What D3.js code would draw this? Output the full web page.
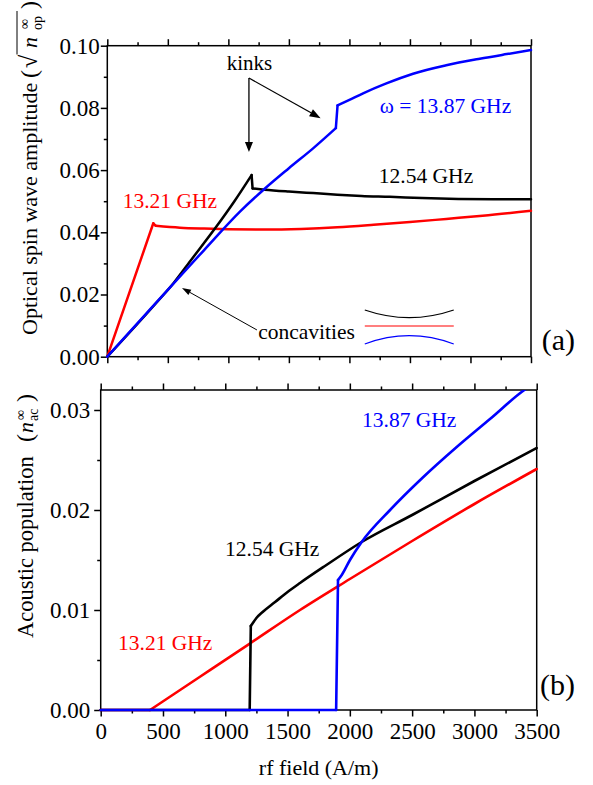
<!DOCTYPE html>
<html lang="en">
<head>
<meta charset="UTF-8">
<title>Optical amplitude and acoustic population vs rf field</title>
<style>
  body { margin: 0; background: #fff; }
  svg { display: block; font-family: "Liberation Serif", "Times New Roman", serif; }
</style>
</head>
<body>
<svg width="593" height="785"></svg>
<script src="https://d3js.org/d3.v7.min.js"></script>
<script>
// ---- panel (a): optical spin wave amplitude
const redA_x   = [0, 380, 400, 600, 800, 1000, 1300, 1600, 1900, 2200, 2500, 2800, 3100, 3500];
const redA_y   = [0, 0.0429, 0.0421, 0.0415, 0.0412, 0.0410, 0.0409, 0.0411, 0.0416, 0.0424, 0.0433, 0.0443, 0.0453, 0.0469];
const blackA_x = [0, 400, 550, 700, 889, 1050, 1192, 1200, 1300, 1500, 1700, 1900, 2100, 2333, 2600, 2900, 3200, 3500];
const blackA_y = [0, 0.0171, 0.0238, 0.0315, 0.0412, 0.0500, 0.0584, 0.0541, 0.0537, 0.0531, 0.0526, 0.0521, 0.0517, 0.0514, 0.0510, 0.0507, 0.0506, 0.0506];
const blueA_x  = [0, 400, 800, 1100, 1300, 1500, 1700, 1888, 1902, 2000, 2113, 2300, 2526, 2800, 3077, 3300, 3500];
const blueA_y  = [0, 0.0172, 0.0343, 0.0468, 0.0540, 0.0606, 0.0670, 0.0735, 0.0808, 0.0826, 0.0847, 0.0878, 0.0910, 0.0937, 0.0958, 0.0973, 0.0986];

// ---- panel (b): acoustic population
const redB_x   = [0, 396, 800, 1200, 1600, 2000, 2500, 3000, 3500];
const redB_y   = [0, 0, 0.00335, 0.00667, 0.0100, 0.0131, 0.0169, 0.0206, 0.0241];
const blackB_x = [0, 1196, 1205, 1250, 1300, 1400, 1500, 1600, 1800, 2095, 2500, 3000, 3500];
const blackB_y = [0, 0, 0.0084, 0.0092, 0.0098, 0.0108, 0.0118, 0.0127, 0.0144, 0.0168, 0.0195, 0.0229, 0.0262];
const blueB_x  = [0, 1890, 1905, 1935, 2001, 2095, 2323, 2590, 2858, 3125, 3401, 3500];
const blueB_y  = [0, 0, 0.0130, 0.0135, 0.0150, 0.0168, 0.0200, 0.0233, 0.0263, 0.0291, 0.0320, 0.0328];

const xTicks = [0, 500, 1000, 1500, 2000, 2500, 3000, 3500];
const xMinor = [250, 750, 1250, 1750, 2250, 2750, 3250];
const yTicksA = [0, 0.02, 0.04, 0.06, 0.08, 0.10];
const yMinorA = [0.01, 0.03, 0.05, 0.07, 0.09];
const yTicksB = [0, 0.01, 0.02, 0.03];
const yMinorB = [0.005, 0.015, 0.025];

const RED = "#ff0000", BLUE = "#0000ff", BLACK = "#000000";

const svg = d3.select("svg");

const A = { left: 107.3, right: 531, top: 45.7, bottom: 356.7 };
const B = { left: 100.7, right: 536.7, top: 390, bottom: 710 };

const xA = d3.scaleLinear().domain([0, 3500]).range([A.left, A.right]);
const yA = d3.scaleLinear().domain([0, 0.10]).range([A.bottom, A.top]);
const xB = d3.scaleLinear().domain([0, 3500]).range([B.left, B.right]);
const yB = d3.scaleLinear().domain([0, 0.032]).range([B.bottom, B.top]);

function frame(x, y, box, yMajor, yMin, yPad, xLabels) {
  const put = (axis, tx, ty) => svg.append("g")
    .attr("transform", `translate(${tx},${ty})`)
    .call(axis)
    .call(g => {
      g.attr("font-family", null).attr("font-size", 23);
      g.select(".domain").remove();
      g.selectAll(".tick line").attr("stroke-width", 1.5);
      g.selectAll(".tick text").attr("fill", "#000");
    });
  const none = () => "";
  put(d3.axisBottom(x).tickValues(xTicks).tickSize(6.5).tickPadding(6).tickFormat(xLabels ? d3.format("d") : none), 0, box.bottom);
  put(d3.axisBottom(x).tickValues(xMinor).tickSize(3.5).tickFormat(none), 0, box.bottom);
  put(d3.axisTop(x).tickValues(xTicks).tickSize(6.5).tickFormat(none), 0, box.top);
  put(d3.axisTop(x).tickValues(xMinor).tickSize(3.5).tickFormat(none), 0, box.top);
  put(d3.axisLeft(y).tickValues(yMajor).tickSize(6.5).tickPadding(yPad).tickFormat(d3.format(".2f")), box.left, 0);
  put(d3.axisLeft(y).tickValues(yMin).tickSize(3.5).tickFormat(none), box.left, 0);
  svg.append("rect")
    .attr("x", box.left).attr("y", box.top)
    .attr("width", box.right - box.left).attr("height", box.bottom - box.top)
    .attr("fill", "none").attr("stroke", "#000").attr("stroke-width", 1.5);
}

frame(xA, yA, A, yTicksA, yMinorA, 1, false);
frame(xB, yB, B, yTicksB, yMinorB, 4, true);

// clip for panel (b) so the blue curve stops at the top frame
svg.append("clipPath").attr("id", "clipB").append("rect")
  .attr("x", B.left - 3).attr("y", B.top)
  .attr("width", B.right - B.left + 6).attr("height", B.bottom - B.top + 4);

// smooth runs between the sharp corners (kinks / jumps)
function curve(xs, ys, x, y, color, width, corners, clip) {
  const line = d3.line().x(i => x(xs[i])).y(i => y(ys[i])).curve(d3.curveMonotoneX);
  const cuts = [0, ...corners, xs.length - 1];
  const g = svg.append("g");
  if (clip) g.attr("clip-path", `url(#${clip})`);
  for (let k = 0; k < cuts.length - 1; k++) {
    g.append("path")
      .attr("d", line(d3.range(cuts[k], cuts[k + 1] + 1)))
      .attr("fill", "none").attr("stroke", color)
      .attr("stroke-width", width)
      .attr("stroke-linejoin", "round").attr("stroke-linecap", "round");
  }
}

curve(redA_x, redA_y, xA, yA, RED, 2.5, [1, 2]);
curve(blackA_x, blackA_y, xA, yA, BLACK, 2.5, [6, 7]);
curve(blueA_x, blueA_y, xA, yA, BLUE, 2.5, [7, 8]);

curve(redB_x, redB_y, xB, yB, RED, 2.6, [1], "clipB");
curve(blackB_x, blackB_y, xB, yB, BLACK, 2.6, [1, 2], "clipB");
curve(blueB_x, blueB_y, xB, yB, BLUE, 2.6, [1, 2], "clipB");

// ---- text labels
function label(x, y, u, v, text, color, size, anchor) {
  svg.append("text").attr("x", x(u)).attr("y", y(v))
    .attr("font-size", size).attr("fill", color)
    .attr("text-anchor", anchor || "start").text(text);
}
label(xA, yA, 2251, 0.0784, "\u03c9 = 13.87 GHz", BLUE, 21.5);
label(xA, yA, 2243, 0.0558, "12.54 GHz", BLACK, 21.5);
label(xA, yA, 127, 0.0477, "13.21 GHz", RED, 21.5);
label(xA, yA, 1175, 0.0922, "kinks", BLACK, 21, "middle");
label(xA, yA, 2045, 0.0057, "concavities", BLACK, 21.5, "end");

label(xB, yB, 2098, 0.02827, "13.87 GHz", BLUE, 21.5);
label(xB, yB, 998, 0.0154, "12.54 GHz", BLACK, 21.5);
label(xB, yB, 139, 0.0060, "13.21 GHz", RED, 21.5);

// ---- arrows
function arrow(u1, v1, u2, v2, len, wid, sw) {
  const x1 = xA(u1), y1 = yA(v1), x2 = xA(u2), y2 = yA(v2);
  const a = Math.atan2(y2 - y1, x2 - x1);
  const bx = x2 - len * Math.cos(a), by = y2 - len * Math.sin(a);
  svg.append("line").attr("x1", x1).attr("y1", y1).attr("x2", bx).attr("y2", by)
    .attr("stroke", "#000").attr("stroke-width", sw);
  const px = -Math.sin(a) * wid / 2, py = Math.cos(a) * wid / 2;
  svg.append("polygon")
    .attr("points", [[x2, y2], [bx + px, by + py], [bx - px, by - py]].map(p => p.join(",")).join(" "))
    .attr("fill", "#000");
}
arrow(1170, 0.0896, 1170, 0.0658, 10, 8, 1.3);
arrow(1170, 0.0896, 1762, 0.0767, 11, 8, 1.3);
arrow(1236, 0.0086, 617, 0.0221, 9, 6, 1);

// concavity sketch
function arc(u0, u1, vEnd, vMid, color) {
  const um = (u0 + u1) / 2;
  const yc = 2 * yA(vMid) - yA(vEnd);
  svg.append("path")
    .attr("d", `M${xA(u0)},${yA(vEnd)} Q${xA(um)},${yc} ${xA(u1)},${yA(vEnd)}`)
    .attr("fill", "none").attr("stroke", color).attr("stroke-width", 1.2);
}
arc(2127, 2862, 0.0150, 0.01254, BLACK);
arc(2127, 2862, 0.00987, 0.00987, RED);
arc(2127, 2862, 0.00408, 0.00675, BLUE);

// panel tags
svg.append("text").attr("x", 541.7).attr("y", 349.6).attr("font-size", 30).text("(a)");
svg.append("text").attr("x", 540).attr("y", 694.6).attr("font-size", 30).text("(b)");

// x axis title
svg.append("text").attr("x", (B.left + B.right) / 2).attr("y", 775)
  .attr("font-size", 22).attr("text-anchor", "middle").text("rf field (A/m)");

// ---- rotated y titles
function yTitle(tx, ty, size, main, parts) {
  const g = svg.append("g").attr("transform", `translate(${tx},${ty}) rotate(-90)`);
  g.append("text").attr("font-size", size).text(main);
  const made = {};
  parts.forEach(p => {
    const t = g.append("text").attr("x", p.x).attr("y", p.dy || 0)
      .attr("font-size", p.size).text(p.t);
    if (p.italic) t.attr("font-style", "italic");
    made[p.key || p.t] = t;
  });
  return { g, made };
}

const titleA = yTitle(36.5, 335, 22, "Optical spin wave amplitude", [
  { t: "(", x: 257, size: 24 },
  { t: "\u221a", x: 267, size: 24, key: "root" },
  { t: "n", x: 287, size: 22, italic: true },
  { t: "\u221e", x: 306, size: 14, dy: -8 },
  { t: "op", x: 305, size: 14, dy: 5 },
  { t: ")", x: 326, size: 24 }
]);
const rb = titleA.made.root.node().getBBox();
titleA.g.append("line")
  .attr("x1", rb.x + rb.width - 0.5).attr("x2", 324)
  .attr("y1", rb.y + 1.5).attr("y2", rb.y + 1.5)
  .attr("stroke", "#000").attr("stroke-width", 1);

yTitle(33, 638, 22.5, "Acoustic population", [
  { t: "(", x: 196, size: 24 },
  { t: "n", x: 205, size: 22, italic: true },
  { t: "\u221e", x: 218, size: 14, dy: -8 },
  { t: "ac", x: 217, size: 14, dy: 5 },
  { t: ")", x: 236, size: 24 }
]);
</script>
</body>
</html>
